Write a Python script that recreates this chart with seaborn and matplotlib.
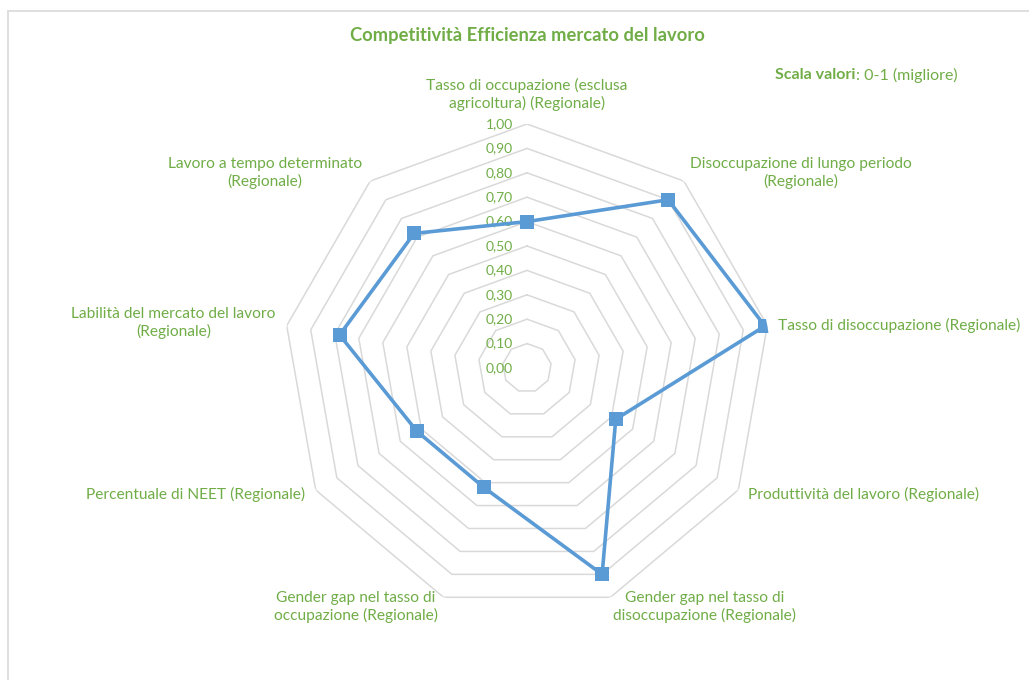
import numpy as np
import pandas as pd
import seaborn as sns
import matplotlib.pyplot as plt
from matplotlib.lines import Line2D

# Dati del grafico radar (scala 0-1)
categorie = [
    'Tasso di occupazione (esclusa\nagricoltura) (Regionale)',
    'Disoccupazione di lungo periodo\n(Regionale)',
    'Tasso di disoccupazione (Regionale)',
    'Produttività del lavoro (Regionale)',
    'Gender gap nel tasso di\ndisoccupazione (Regionale)',
    'Gender gap nel tasso di\noccupazione (Regionale)',
    'Percentuale di NEET (Regionale)',
    'Labilità del mercato del lavoro\n(Regionale)',
    'Lavoro a tempo determinato\n(Regionale)',
]
valori = [0.60, 0.90, 0.99, 0.42, 0.90, 0.52, 0.52, 0.78, 0.72]
livelli = [0.1, 0.2, 0.3, 0.4, 0.5, 0.6, 0.7, 0.8, 0.9, 1.0]
etichette_livelli = ['0,00', '0,10', '0,20', '0,30', '0,40', '0,50',
                     '0,60', '0,70', '0,80', '0,90', '1,00']

titolo = 'Competitività Efficienza mercato del lavoro'
verde = '#70AD47'
blu = '#5B9BD5'
grigio = '#D9D9D9'

sns.set_theme(style='white')
plt.rcParams['font.family'] = ['Lato', 'DejaVu Sans']

fig = plt.figure(figsize=(10.29, 6.8), dpi=100)
fig.patch.set_facecolor('white')

# bordo del riquadro (screenshot Excel)
fig.add_artist(Line2D([7.5 / 1029, 7.5 / 1029], [0, 1 - 10.5 / 680], color=grigio, lw=1.2))
fig.add_artist(Line2D([7.5 / 1029, 1], [1 - 10.5 / 680, 1 - 10.5 / 680], color=grigio, lw=1.2))

# asse polare: centro (527, 368) px, raggio 244 px
ax = fig.add_axes([(527 - 244) / 1029, (680 - 368 - 244) / 680, 488 / 1029, 488 / 680],
                  projection='polar')
ax.set_theta_zero_location('N')
ax.set_theta_direction(-1)
ax.set_ylim(0, 1)
ax.grid(False)
ax.spines['polar'].set_visible(False)
ax.set_xticks([])
ax.set_yticks([])
ax.set_facecolor('none')

n = len(categorie)
angoli = np.linspace(0, 2 * np.pi, n, endpoint=False)
angoli_chiusi = np.append(angoli, 2 * np.pi)

# anelli ennagonali
for r in livelli:
    ax.plot(angoli_chiusi, [r] * (n + 1), color=grigio, lw=1.1, zorder=1)

# etichette della scala
for r, testo in zip([0.0] + livelli, etichette_livelli):
    ax.annotate(testo, xy=(0, r), xytext=(-14, 0), textcoords='offset pixels',
                ha='right', va='center', color=verde, fontsize=10, zorder=2)

# serie
df = pd.DataFrame({'angolo': angoli_chiusi, 'valore': valori + [valori[0]]})
sns.lineplot(data=df, x='angolo', y='valore', sort=False, ax=ax, color=blu,
             linewidth=2.6, marker='s', markersize=10.5, markeredgewidth=0, zorder=3)
ax.set_xlabel('')
ax.set_ylabel('')

# etichette delle categorie: (ha, va, dx, dy) in pixel
posizioni = [
    ('center', 'bottom', 0, 13),
    ('left', 'center', 6, 8),
    ('left', 'center', 11, 0),
    ('left', 'center', 10, -4),
    ('left', 'center', 3, -10),
    ('right', 'center', -6, -10),
    ('right', 'center', -11, -4),
    ('right', 'center', -11, 3),
    ('right', 'center', -8, 8),
]
for ang, cat, (ha, va, dx, dy) in zip(angoli, categorie, posizioni):
    ax.annotate(cat, xy=(ang, 1.0), xytext=(dx, dy), textcoords='offset pixels',
                ha=ha, va=va, multialignment='center', color=verde,
                fontsize=11.2, linespacing=1.25, annotation_clip=False)

# titolo e nota sulla scala
fig.text(527 / 1029, 1 - 35 / 680, titolo, ha='center', va='center',
         color=verde, fontsize=13.2, fontweight='bold')
t = fig.text(775 / 1029, 1 - 75 / 680, 'Scala valori', ha='left', va='center',
             color=verde, fontsize=11.5, fontweight='bold')
ax.annotate(': 0-1 (migliore)', xy=(1, 0.5), xycoords=t, ha='left', va='center',
            color=verde, fontsize=11.5, annotation_clip=False)

fig.savefig('out.png', dpi=100)
